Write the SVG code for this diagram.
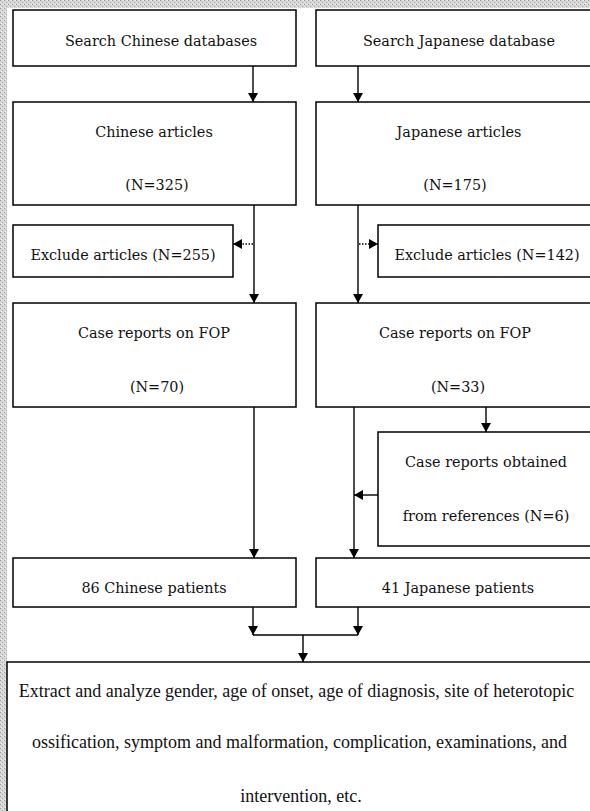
<svg xmlns="http://www.w3.org/2000/svg" width="590" height="811" viewBox="0 0 590 811">
  <defs>
    <pattern id="halftone" width="4" height="4" patternUnits="userSpaceOnUse">
      <rect width="4" height="4" fill="#d6d6d6"/>
      <rect x="0" y="0" width="1" height="1" fill="#9a9a9a"/>
      <rect x="2" y="2" width="1" height="1" fill="#a8a8a8"/>
      <rect x="3" y="0" width="1" height="1" fill="#f0f0f0"/>
      <rect x="1" y="3" width="1" height="1" fill="#eeeeee"/>
    </pattern>
    <marker id="arr" markerWidth="9" markerHeight="10" refX="9" refY="5" orient="auto" markerUnits="userSpaceOnUse">
      <path d="M0,0 L9,5 L0,10 Z" fill="#000"/>
    </marker>
  </defs>
  <style>
    .box { fill: #fff; stroke: #000; stroke-width: 1.5; }
    .t { font-family: "DejaVu Serif", "Liberation Serif", serif; font-size: 14.4px; fill: #111; text-anchor: middle; }
    .b { font-family: "Liberation Serif", "Times New Roman", serif; font-size: 18px; fill: #111; text-anchor: middle; }
    .ln { fill: none; stroke: #000; stroke-width: 1.4; }
    .dot { fill: none; stroke: #000; stroke-width: 1.4; stroke-dasharray: 1.5 1.5; }
  </style>

  <rect x="0" y="0" width="590" height="811" fill="#fff"/>
  <rect x="0" y="0" width="590" height="8" fill="url(#halftone)"/>
  <rect x="0" y="0" width="7" height="811" fill="url(#halftone)"/>

  <g id="search-cn">
    <rect class="box" x="13" y="10" width="283" height="56"/>
    <text class="t" x="161" y="46">Search Chinese databases</text>
  </g>
  <g id="search-jp">
    <rect class="box" x="316" y="10" width="280" height="56"/>
    <text class="t" x="459" y="46">Search Japanese database</text>
  </g>
  <g id="articles-cn">
    <rect class="box" x="13" y="102" width="283" height="103"/>
    <text class="t" x="154" y="137">Chinese articles</text>
    <text class="t" x="157" y="190">(N=325)</text>
  </g>
  <g id="articles-jp">
    <rect class="box" x="316" y="102" width="280" height="103"/>
    <text class="t" x="459" y="137">Japanese articles</text>
    <text class="t" x="455" y="190">(N=175)</text>
  </g>
  <g id="exclude-cn">
    <rect class="box" x="13" y="225" width="220" height="52"/>
    <text class="t" x="123" y="260">Exclude articles (N=255)</text>
  </g>
  <g id="exclude-jp">
    <rect class="box" x="378" y="225" width="218" height="52"/>
    <text class="t" x="487" y="260">Exclude articles (N=142)</text>
  </g>
  <g id="fop-cn">
    <rect class="box" x="13" y="303" width="283" height="104"/>
    <text class="t" x="154" y="338">Case reports on FOP</text>
    <text class="t" x="157" y="392">(N=70)</text>
  </g>
  <g id="fop-jp">
    <rect class="box" x="316" y="303" width="280" height="104"/>
    <text class="t" x="455" y="338">Case reports on FOP</text>
    <text class="t" x="458" y="392">(N=33)</text>
  </g>
  <g id="refs-jp">
    <rect class="box" x="378" y="432" width="218" height="114"/>
    <text class="t" x="486" y="467">Case reports obtained</text>
    <text class="t" x="486" y="521">from references (N=6)</text>
  </g>
  <g id="patients-cn">
    <rect class="box" x="13" y="558" width="283" height="49"/>
    <text class="t" x="154" y="593">86 Chinese patients</text>
  </g>
  <g id="patients-jp">
    <rect class="box" x="316" y="558" width="280" height="49"/>
    <text class="t" x="458" y="593">41 Japanese patients</text>
  </g>
  <g id="analysis">
    <rect class="box" x="7" y="662" width="590" height="160"/>
    <text class="b" x="296.5" y="697">Extract and analyze gender, age of onset, age of diagnosis, site of heterotopic</text>
    <text class="b" x="299.5" y="748">ossification, symptom and malformation, complication, examinations, and</text>
    <text class="b" x="301" y="802">intervention, etc.</text>
  </g>

  <g id="connectors">
    <line class="ln" x1="253" y1="66" x2="253" y2="102" marker-end="url(#arr)"/>
    <line class="ln" x1="358" y1="66" x2="358" y2="102" marker-end="url(#arr)"/>
    <line class="ln" x1="254" y1="205" x2="254" y2="303" marker-end="url(#arr)"/>
    <line class="ln" x1="358" y1="205" x2="358" y2="303" marker-end="url(#arr)"/>
    <line class="dot" x1="253" y1="244" x2="233" y2="244" marker-end="url(#arr)"/>
    <line class="dot" x1="359" y1="244" x2="378" y2="244" marker-end="url(#arr)"/>
    <line class="ln" x1="254" y1="407" x2="254" y2="558" marker-end="url(#arr)"/>
    <line class="ln" x1="354" y1="407" x2="354" y2="558" marker-end="url(#arr)"/>
    <line class="ln" x1="486" y1="407" x2="486" y2="432" marker-end="url(#arr)"/>
    <line class="ln" x1="378" y1="495" x2="354" y2="495" marker-end="url(#arr)"/>
    <line class="ln" x1="253" y1="607" x2="253" y2="635" marker-end="url(#arr)"/>
    <line class="ln" x1="358" y1="607" x2="358" y2="635" marker-end="url(#arr)"/>
    <line class="ln" x1="253" y1="635" x2="358" y2="635"/>
    <line class="ln" x1="303" y1="635" x2="303" y2="662" marker-end="url(#arr)"/>
  </g>
</svg>
